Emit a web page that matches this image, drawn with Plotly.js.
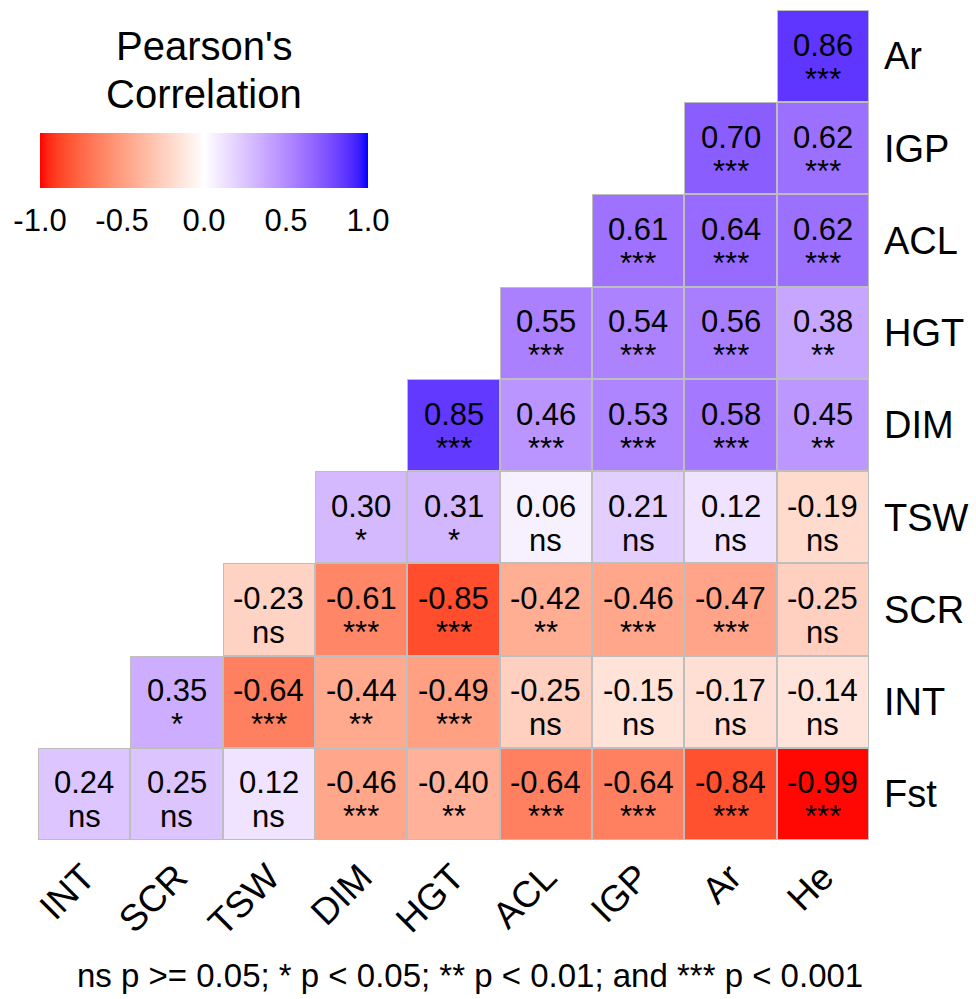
<!DOCTYPE html>
<html>
<head>
<meta charset="utf-8">
<script src="https://cdn.plot.ly/plotly-3.0.1.min.js"></script>
<style>html,body{margin:0;padding:0;background:#fff;}</style>
</head>
<body>
<div id="chart" style="width:976px;height:999px;"></div>
<script>
// ---- data ----
const xLabels = ["INT","SCR","TSW","DIM","HGT","ACL","IGP","Ar","He"];
const yLabels = ["Fst","INT","SCR","TSW","DIM","HGT","ACL","IGP","Ar"]; // bottom to top

const rowFst = [0.24, 0.25, 0.12, -0.46, -0.40, -0.64, -0.64, -0.84, -0.99];
const rowINT = [null, 0.35, -0.64, -0.44, -0.49, -0.25, -0.15, -0.17, -0.14];
const rowSCR = [null, null, -0.23, -0.61, -0.85, -0.42, -0.46, -0.47, -0.25];
const rowTSW = [null, null, null, 0.30, 0.31, 0.06, 0.21, 0.12, -0.19];
const rowDIM = [null, null, null, null, 0.85, 0.46, 0.53, 0.58, 0.45];
const rowHGT = [null, null, null, null, null, 0.55, 0.54, 0.56, 0.38];
const rowACL = [null, null, null, null, null, null, 0.61, 0.64, 0.62];
const rowIGP = [null, null, null, null, null, null, null, 0.70, 0.62];
const rowAr  = [null, null, null, null, null, null, null, null, 0.86];

const sigFst = ["ns","ns","ns","***","**","***","***","***","***"];
const sigINT = [null,"*","***","**","***","ns","ns","ns","ns"];
const sigSCR = [null,null,"ns","***","***","**","***","***","ns"];
const sigTSW = [null,null,null,"*","*","ns","ns","ns","ns"];
const sigDIM = [null,null,null,null,"***","***","***","***","**"];
const sigHGT = [null,null,null,null,null,"***","***","***","**"];
const sigACL = [null,null,null,null,null,null,"***","***","***"];
const sigIGP = [null,null,null,null,null,null,null,"***","***"];
const sigAr  = [null,null,null,null,null,null,null,null,"***"];

const colorTicks = [-1.0, -0.5, 0.0, 0.5, 1.0];
const legendTitleLines = ["Pearson's", "Correlation"];
const footnote = "ns p &gt;= 0.05; * p &lt; 0.05; ** p &lt; 0.01; and *** p &lt; 0.001";

const zRows = [rowFst,rowINT,rowSCR,rowTSW,rowDIM,rowHGT,rowACL,rowIGP,rowAr];
const sRows = [sigFst,sigINT,sigSCR,sigTSW,sigDIM,sigHGT,sigACL,sigIGP,sigAr];

// ---- colour scale: red - white - blue interpolated in Lab (like ggplot gradient2) ----
function labToRgb(L,a,b){
  const fy=(L+16)/116, fx=fy+a/500, fz=fy-b/200;
  const finv=t=>{const t3=t*t*t;return t3>0.008856?t3:(t-16/116)/7.787;};
  const X=0.95047*finv(fx), Y=finv(fy), Z=1.08883*finv(fz);
  let r= 3.2404542*X-1.5371385*Y-0.4985314*Z;
  let g=-0.9692660*X+1.8760108*Y+0.0415560*Z;
  let bb=0.0556434*X-0.2040259*Y+1.0572252*Z;
  const gam=c=>{c=c<=0.0031308?12.92*c:1.055*Math.pow(c,1/2.4)-0.055;return Math.max(0,Math.min(255,Math.round(c*255)));};
  return 'rgb('+gam(r)+','+gam(g)+','+gam(bb)+')';
}
const labRed=[53.2408,80.0925,67.2032], labWhite=[100,0,0], labBlue=[32.2970,79.1875,-107.8602];
const cscale=[];
const N=40;
for(let i=0;i<=N;i++){
  const f=i/N; const v=-1+2*f;
  let c;
  if(v<=0){const t=-v;c=labWhite.map((w,k)=>w+(labRed[k]-w)*t);}
  else {const t=v;c=labWhite.map((w,k)=>w+(labBlue[k]-w)*t);}
  cscale.push([f,labToRgb(c[0],c[1],c[2])]);
}

const fontFam='Liberation Sans, Arial, sans-serif';

// ---- traces ----
const borderZ = zRows.map(r=>r.map(v=>v===null?null:1));
const borderTrace = {
  type:'heatmap', x:xLabels, y:yLabels, z:borderZ,
  colorscale:[[0,'#BEBEBE'],[1,'#BEBEBE']], showscale:false, hoverinfo:'skip'
};
const mainTrace = {
  type:'heatmap', x:xLabels, y:yLabels, z:zRows,
  zmin:-1, zmax:1, colorscale:cscale, xgap:2, ygap:2,
  colorbar:{
    orientation:'h', thicknessmode:'pixels', thickness:55, lenmode:'pixels', len:328,
    x:0.1998, xanchor:'center', y:0.8518, yanchor:'top', xpad:0, ypad:0,
    outlinewidth:0, tickvals:colorTicks, ticktext:colorTicks.map(v=>v.toFixed(1)),
    ticks:'outside', ticklen:6, tickwidth:1, tickcolor:'#ffffff',
    tickfont:{family:fontFam, size:31, color:'#000'}
  }
};

// ---- annotations ----
const anns=[];
zRows.forEach((row,i)=>{
  row.forEach((v,j)=>{
    if(v===null) return;
    anns.push({x:xLabels[j], y:yLabels[i], xref:'x', yref:'y', text:v.toFixed(2), showarrow:false,
      yshift:11, font:{family:fontFam,size:31,color:'#000'}});
    anns.push({x:xLabels[j], y:yLabels[i], xref:'x', yref:'y', text:sRows[i][j], showarrow:false,
      yshift:-23, font:{family:fontFam,size:31,color:'#000'}});
  });
});
const titleY=[0.9566, 0.8988];
legendTitleLines.forEach((t,k)=>{
  anns.push({xref:'paper', yref:'paper', x:0.1998, y:titleY[k], xanchor:'center', yanchor:'middle',
    text:t, showarrow:false, font:{family:fontFam,size:40,color:'#000'}});
});
anns.push({xref:'paper', yref:'paper', x:0.5195, y:-0.1627, xanchor:'center', yanchor:'middle',
  text:footnote, showarrow:false, font:{family:fontFam,size:33,color:'#000'}});

const layout = {
  width:976, height:999,
  margin:{l:38, r:107, t:10, b:159},
  paper_bgcolor:'#fff', plot_bgcolor:'#fff',
  font:{family:fontFam, color:'#000'},
  xaxis:{type:'category', categoryorder:'array', categoryarray:xLabels, showgrid:false, zeroline:false,
    ticks:'', tickangle:-45, ticklabelstandoff:7, tickfont:{family:fontFam,size:37,color:'#000'}, showline:false, fixedrange:true},
  yaxis:{type:'category', categoryorder:'array', categoryarray:yLabels, side:'right', showgrid:false, zeroline:false,
    ticks:'', ticklabelstandoff:14, tickfont:{family:fontFam,size:38,color:'#000'}, showline:false, fixedrange:true},
  annotations:anns,
  showlegend:false
};

Plotly.newPlot('chart',[borderTrace, mainTrace],layout,{displayModeBar:false, staticPlot:true});
</script>
</body>
</html>
